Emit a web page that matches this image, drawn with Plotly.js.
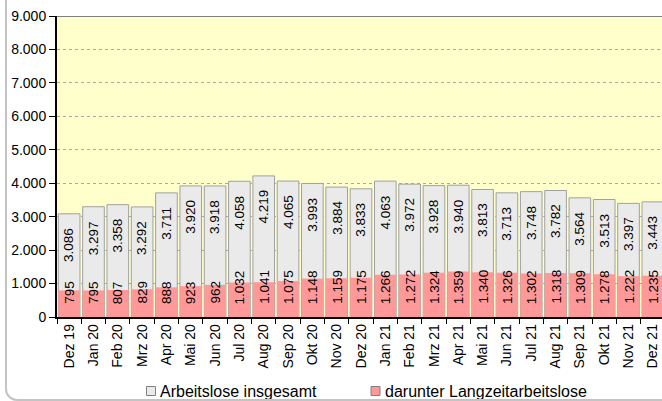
<!DOCTYPE html>
<html>
<head>
<meta charset="utf-8">
<script src="https://cdn.plot.ly/plotly-3.0.1.min.js"></script>
<style>
html, body { margin: 0; padding: 0; overflow: hidden; background: #ffffff; width: 662px; height: 401px; }
#chart { position: absolute; left: 0; top: 0; width: 675px; height: 401px; }
#frame { position: absolute; left: 5px; top: -20px; width: 700px; height: 421px; box-sizing: border-box;
  border: 2px solid #c4c4c4; border-radius: 12px; pointer-events: none; }
</style>
</head>
<body>
<div id="chart"></div>
<div id="frame"></div>
<script>
const months = ["Dez 19","Jan 20","Feb 20","Mrz 20","Apr 20","Mai 20","Jun 20","Jul 20","Aug 20","Sep 20","Okt 20","Nov 20","Dez 20",
  "Jan 21","Feb 21","Mrz 21","Apr 21","Mai 21","Jun 21","Jul 21","Aug 21","Sep 21","Okt 21","Nov 21","Dez 21"];
const arbeitsloseGesamt = [3086,3297,3358,3292,3711,3920,3918,4058,4219,4065,3993,3884,3833,4063,3972,3928,3940,3813,3713,3748,3782,3564,3513,3397,3443];
const langzeitArbeitslose = [795,795,807,829,888,923,962,1032,1041,1075,1148,1159,1175,1266,1272,1324,1359,1340,1326,1302,1318,1309,1278,1222,1235];
const seriesNames = ["Arbeitslose insgesamt", "darunter Langzeitarbeitslose"];
const seriesColors = ["#EAEAEA", "#FF9999"];

function fmt(n) { return String(n).replace(/\B(?=(\d{3})+(?!\d))/g, "."); }

const FONT = "Liberation Sans, Arial, sans-serif";
const W = 675, H = 401, ML = 57, MR = 10, MT = 16, MB = 84;
const PW = W - ML - MR, PH = H - MT - MB;
const px2x = p => (p - ML) / PW;
const py2y = p => (H - MB - p) / PH;

const traces = [
  { type: "bar", name: seriesNames[0], x: months, y: arbeitsloseGesamt, showlegend: false,
    marker: { color: seriesColors[0], line: { color: "#A0A0A0", width: 1 } }, hoverinfo: "x+y" },
  { type: "bar", name: seriesNames[1], x: months, y: langzeitArbeitslose, showlegend: false,
    marker: { color: seriesColors[1], line: { width: 0 } }, hoverinfo: "x+y" }
];

const annotations = [];
months.forEach((m, i) => {
  annotations.push({ x: m, y: arbeitsloseGesamt[i], xref: "x", yref: "y", text: fmt(arbeitsloseGesamt[i]),
    showarrow: false, textangle: -90, yanchor: "top", xanchor: "center", yshift: -12,
    font: { family: FONT, size: 13.5, color: "#000" } });
  annotations.push({ x: m, y: 0, xref: "x", yref: "y", text: fmt(langzeitArbeitslose[i]),
    showarrow: false, textangle: -90, yanchor: "bottom", xanchor: "center", yshift: 11,
    font: { family: FONT, size: 13.5, color: "#000" } });
});

// legend (drawn as shapes + text)
const legendY = 391;
const legendItems = [ { sym: 151, txt: 158.5 }, { sym: 375.5, txt: 383.5 } ];
const shapes = [
  { type: "line", xref: "paper", yref: "y", x0: 0, x1: 1, y0: 9000, y1: 9000, line: { color: "#808080", width: 2 } }
];
legendItems.forEach((it, k) => {
  shapes.push({ type: "rect", xref: "paper", yref: "paper", xsizemode: "pixel", ysizemode: "pixel",
    xanchor: px2x(it.sym), yanchor: py2y(legendY), x0: -4.5, x1: 4.5, y0: -4.5, y1: 4.5,
    fillcolor: seriesColors[k], line: { color: "#808080", width: 1 } });
  annotations.push({ xref: "paper", yref: "paper", x: px2x(it.txt), y: py2y(legendY), text: seriesNames[k],
    showarrow: false, xanchor: "left", yanchor: "middle", borderpad: 0,
    font: { family: FONT, size: 16, color: "#000" } });
});

const layout = {
  width: W, height: H,
  margin: { l: ML, r: MR, t: MT, b: MB },
  paper_bgcolor: "rgba(0,0,0,0)",
  plot_bgcolor: "#FFFFCC",
  barmode: "overlay",
  bargap: 0.11,
  separators: ",.",
  font: { family: FONT, size: 14, color: "#000" },
  showlegend: false,
  xaxis: { type: "category", showgrid: false, ticks: "outside", ticklen: 5, tickcolor: "#000",
    tickson: "boundaries", tickangle: -90, showline: true, linecolor: "#000", linewidth: 1.5,
    tickfont: { family: FONT, size: 14, color: "#000" }, fixedrange: true },
  yaxis: { range: [0, 9000], dtick: 1000, tickformat: ",d", ticks: "outside", ticklen: 6, tickcolor: "#000",
    showline: true, linecolor: "#000", linewidth: 2, showgrid: true, gridcolor: "#A8A8A8", griddash: "dot",
    gridwidth: 1, zeroline: false, tickfont: { family: FONT, size: 14, color: "#000" }, fixedrange: true },
  shapes: shapes,
  annotations: annotations
};

Plotly.newPlot("chart", traces, layout, { displayModeBar: false, staticPlot: true });
</script>
</body>
</html>
